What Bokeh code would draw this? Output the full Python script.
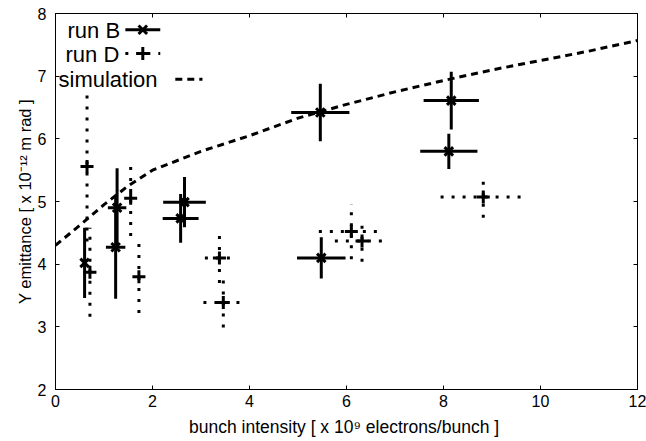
import numpy as np
from bokeh.plotting import figure
from bokeh.models import Range1d, LinearAxis, Label, FixedTicker, Title
from bokeh.embed import file_html
from bokeh.resources import INLINE

# ---- data ----
runB_x = [0.60, 1.27, 1.24, 2.66, 2.58, 5.48, 5.46, 8.16, 8.11]
runB_y = [4.02, 4.90, 4.27, 4.99, 4.73, 4.10, 6.42, 6.61, 5.80]
runB_xerr = [0.0, 0.19, 0.20, 0.44, 0.37, 0.50, 0.60, 0.57, 0.59]
runB_yerr = [0.56, 0.63, 0.82, 0.40, 0.39, 0.33, 0.46, 0.46, 0.28]

runD_x = [0.65, 0.71, 1.55, 1.72, 3.38, 3.46, 6.10, 6.32, 8.82]
runD_y = [5.56, 3.87, 5.05, 3.80, 4.10, 3.39, 4.52, 4.37, 5.07]
runD_xerr = [0.0, 0.0, 0.0, 0.0, 0.30, 0.41, 0.67, 0.56, 0.88]
runD_yerr = [1.20, 0.71, 0.60, 0.58, 0.40, 0.40, 0.44, 0.33, 0.33]

sim_x = [0, 0.5, 1, 1.5, 2, 3, 4, 5, 6, 7, 8, 9, 10, 11, 12]
sim_y = [4.30, 4.62, 4.95, 5.25, 5.50, 5.80, 6.05, 6.33, 6.55, 6.75, 6.93, 7.10, 7.25, 7.40, 7.57]

x_ticks = [0, 2, 4, 6, 8, 10, 12]
y_ticks = [2, 3, 4, 5, 6, 7, 8]

x_label = "bunch intensity [ x 10\u2079  electrons/bunch ]"
y_label = "Y emittance [ x 10\u207b\u00b9\u00b2 m rad ]"
legend_labels = ["run B", "run D", "simulation"]

FONT = "Liberation Sans"

p = figure(width=646, height=441, output_backend="svg", toolbar_location=None,
           x_range=Range1d(0, 12), y_range=Range1d(2, 8),
           min_border_left=55, min_border_right=9, min_border_top=13, min_border_bottom=52,
           background_fill_color="white", border_fill_color="white")
p.grid.visible = False
p.outline_line_color = "black"
p.outline_line_width = 1

for ax, ticks in ((p.xaxis[0], x_ticks), (p.yaxis[0], y_ticks)):
    ax.ticker = FixedTicker(ticks=ticks)
    ax.major_tick_in = 4
    ax.major_tick_out = 0
    ax.minor_tick_line_color = None
    ax.axis_line_color = "black"
    ax.major_tick_line_color = "black"
    ax.major_label_text_font = FONT
    ax.major_label_text_font_size = "16px"
    ax.major_label_text_color = "black"
p.xaxis.major_label_standoff = 5
p.yaxis.major_label_standoff = 9

p.xaxis.axis_label = x_label
p.xaxis.axis_label_text_font = FONT
p.xaxis.axis_label_text_font_size = "17.5px"
p.xaxis.axis_label_text_font_style = "normal"
p.xaxis.axis_label_text_color = "black"
p.xaxis.axis_label_standoff = 7

for loc, ticks in (("above", x_ticks), ("right", y_ticks)):
    ax = LinearAxis(ticker=FixedTicker(ticks=ticks),
                    major_label_overrides={t: "" for t in ticks},
                    major_label_text_font_size="1px", major_label_standoff=0,
                    axis_line_color=None, major_tick_in=4, major_tick_out=0,
                    minor_tick_line_color=None, major_tick_line_color="black")
    p.add_layout(ax, loc)

p.add_layout(Title(text=y_label, align="center", offset=73, text_font=FONT,
                   text_font_size="16.5px", text_font_style="normal",
                   text_color="black", standoff=2), "left")

# simulation curve
p.line(sim_x, sim_y, line_color="black", line_width=3, line_dash="7 5")

# run D (dotted error bars, plus markers)
dx = np.array(runD_x); dy = np.array(runD_y)
dxe = np.array(runD_xerr); dye = np.array(runD_yerr)
p.segment(dx, dy - dye, dx, dy + dye, line_color="black", line_width=3, line_dash="3 8")
mask = dxe > 0
p.segment(dx[mask] - dxe[mask], dy[mask], dx[mask] + dxe[mask], dy[mask],
          line_color="black", line_width=3, line_dash="3 8")
p.scatter(dx, dy, marker="cross", size=13, line_color="black", line_width=3)

# run B (solid error bars, x markers)
bx = np.array(runB_x); by = np.array(runB_y)
bxe = np.array(runB_xerr); bye = np.array(runB_yerr)
p.segment(bx, by - bye, bx, by + bye, line_color="black", line_width=3)
p.segment(bx - bxe, by, bx + bxe, by, line_color="black", line_width=3)
p.scatter(bx, by, marker="x", size=12, line_color="black", line_width=3)

# ---- legend (text left, sample right, as in the reference) ----
for txt, sx, sy in zip(legend_labels, (12, 10, 3), (359, 335, 310)):
    p.add_layout(Label(x=sx, y=sy, x_units="screen", y_units="screen", text=txt,
                       text_font=FONT, text_font_size="22px", text_color="black",
                       text_align="left", text_baseline="alphabetic"))
legB_y, legD_y, legS_y = 7.74, 7.36, 6.95
p.line([1.44, 2.16], [legB_y, legB_y], line_color="black", line_width=3)
p.scatter([1.80], [legB_y], marker="x", size=12, line_color="black", line_width=3)
p.line([1.44, 2.16], [legD_y, legD_y], line_color="black", line_width=3, line_dash="3 8")
p.scatter([1.80], [legD_y], marker="cross", size=13, line_color="black", line_width=3)
p.line([2.47, 3.03], [legS_y, legS_y], line_color="black", line_width=3, line_dash="7 5")

open("out.html", "w").write(file_html(p, INLINE))
